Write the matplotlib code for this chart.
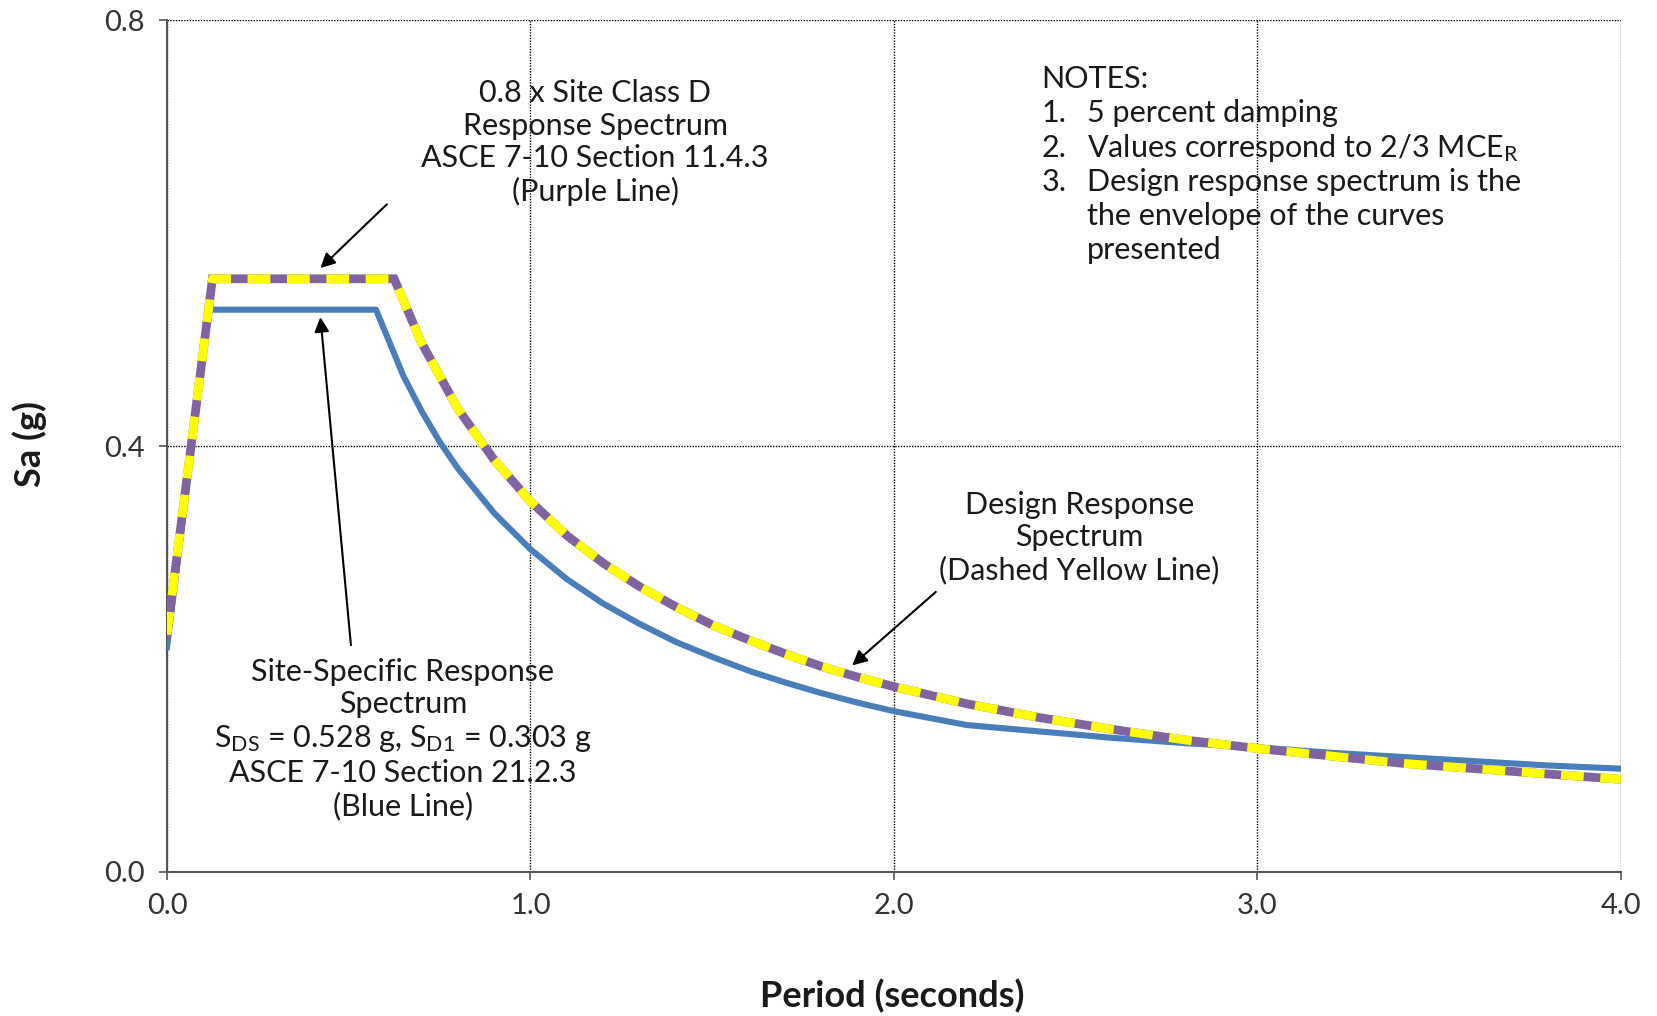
import matplotlib

matplotlib.use("Agg")
import matplotlib.pyplot as plt

plt.rcParams.update({
    "font.family": ["Lato", "DejaVu Sans"],
    "mathtext.default": "regular",
})

PURPLE = "#8064A2"
YELLOW = "#FFFF00"
BLUE = "#4A7EBB"
TXT = "#1a1a1a"

# 0.8 x Site Class D / design response spectrum (purple + dashed yellow)
period_design = [0.0, 0.125, 0.625, 0.7, 0.8, 0.9, 1.0, 1.1, 1.2, 1.3, 1.4, 1.5, 1.6,
                 1.7, 1.8, 1.9, 2.0, 2.2, 2.4, 2.6, 2.8, 3.0, 3.2, 3.4, 3.6, 3.8, 4.0]
sa_design = [0.223, 0.557, 0.557, 0.497, 0.435, 0.387, 0.348, 0.316, 0.290, 0.268, 0.249,
             0.232, 0.218, 0.205, 0.193, 0.183, 0.174, 0.158, 0.145, 0.134, 0.124, 0.116,
             0.109, 0.102, 0.097, 0.092, 0.087]

# site-specific response spectrum (blue)
period_site = [0.0, 0.115, 0.575, 0.65, 0.7, 0.75, 0.8, 0.9, 1.0, 1.1, 1.2, 1.3, 1.4, 1.5,
               1.6, 1.7, 1.8, 1.9, 2.0, 2.2, 2.4, 2.6, 2.8, 3.0, 3.2, 3.4, 3.6, 3.8, 4.0]
sa_site = [0.211, 0.528, 0.528, 0.466, 0.433, 0.404, 0.379, 0.337, 0.303, 0.275, 0.252,
           0.233, 0.216, 0.202, 0.189, 0.178, 0.168, 0.159, 0.151, 0.138, 0.132, 0.126,
           0.121, 0.117, 0.112, 0.108, 0.104, 0.100, 0.097]

x_ticks = [0.0, 1.0, 2.0, 3.0, 4.0]
y_ticks = [0.0, 0.4, 0.8]

fig = plt.figure(figsize=(16.58, 10.16), dpi=100)
ax = fig.add_axes([167 / 1658, 1 - 872 / 1016, (1621 - 167) / 1658, (872 - 20) / 1016])

ax.plot(period_site, sa_site, color=BLUE, lw=4.4, solid_joinstyle="round", zorder=3)
ax.plot(period_design, sa_design, color=PURPLE, lw=6.3, solid_joinstyle="miter", zorder=4)
ax.plot(period_design, sa_design, color=YELLOW, lw=6.3, dashes=(2.6, 1.9), zorder=5)

ax.set_xlim(0, 4.0)
ax.set_ylim(0, 0.8)
ax.set_xticks(x_ticks)
ax.set_yticks(y_ticks)
ax.set_xticklabels([f"{v:.1f}" for v in x_ticks])
ax.set_yticklabels([f"{v:.1f}" for v in y_ticks])
ax.tick_params(axis="both", labelsize=21, colors="#555555", labelcolor="#333333",
               length=6, width=1.2, direction="out")
ax.tick_params(axis="x", pad=9)
ax.tick_params(axis="y", pad=10)
ax.grid(True, color="black", linestyle=(0, (1, 1)), linewidth=1.0)
for s in ["top", "right"]:
    ax.spines[s].set_visible(False)
for s in ["left", "bottom"]:
    ax.spines[s].set_color("#555555")
    ax.spines[s].set_linewidth(1.5)

fig.text(30 / 1658, 1 - 444 / 1016, "Sa (g)", rotation=90, ha="center", va="center",
         fontsize=26, fontweight="bold", color=TXT)
fig.text(0.538, 1 - 996 / 1016, "Period (seconds)", ha="center", va="center",
         fontsize=26, fontweight="bold", color=TXT)

ann = dict(fontsize=22, color=TXT, ha="center", va="center", linespacing=1.2, zorder=6)
ax.text(1.178, 0.685, "0.8 x Site Class D\nResponse Spectrum\nASCE 7-10 Section 11.4.3\n(Purple Line)", **ann)
ax.text(0.649, 0.125, "Site-Specific Response\nSpectrum\n"
        "S$_{DS}$ = 0.528 g, S$_{D1}$ = 0.303 g\nASCE 7-10 Section 21.2.3\n(Blue Line)", **ann)
ax.text(2.51, 0.314, "Design Response\nSpectrum\n(Dashed Yellow Line)", **ann)

arrow = dict(arrowstyle="-|>", color="black", lw=1.5, mutation_scale=22, shrinkA=0, shrinkB=0)
ax.annotate("", xy=(0.422, 0.567), xytext=(0.605, 0.627), arrowprops=arrow, zorder=7)
ax.annotate("", xy=(0.422, 0.521), xytext=(0.506, 0.213), arrowprops=arrow, zorder=7)
ax.annotate("", xy=(1.885, 0.194), xytext=(2.115, 0.263), arrowprops=arrow, zorder=7)

notes = dict(fontsize=22, color=TXT, ha="left", va="center", zorder=6)
note_rows = [0.745, 0.713, 0.680, 0.648, 0.616, 0.584]
ax.text(2.406, note_rows[0], "NOTES:", **notes)
ax.text(2.406, note_rows[1], "1.", **notes)
ax.text(2.406, note_rows[2], "2.", **notes)
ax.text(2.406, note_rows[3], "3.", **notes)
ax.text(2.53, note_rows[1], "5 percent damping", **notes)
ax.text(2.53, note_rows[2], "Values correspond to 2/3 MCE$_R$", **notes)
ax.text(2.53, note_rows[3], "Design response spectrum is the", **notes)
ax.text(2.53, note_rows[4], "the envelope of the curves", **notes)
ax.text(2.53, note_rows[5], "presented", **notes)

fig.savefig("out.png", dpi=100, facecolor="white")
